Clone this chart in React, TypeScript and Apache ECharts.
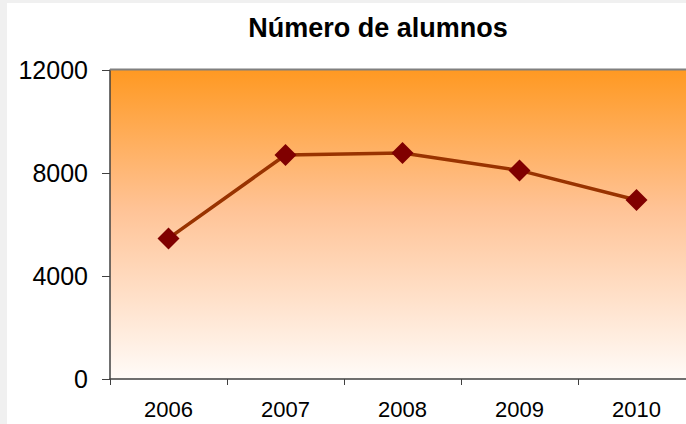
import React, { useEffect, useRef } from "react";
import * as echarts from "echarts";

const categories = ["2006", "2007", "2008", "2009", "2010"];
const alumnos = [5460, 8700, 8780, 8100, 6950];
const yTicks = [0, 4000, 8000, 12000];
const titleText = "Número de alumnos";

export default function App() {
  const ref = useRef<HTMLDivElement>(null);
  useEffect(() => {
    document.body.style.margin = "0";
    document.body.style.overflow = "hidden";
    document.documentElement.style.overflow = "hidden";
    const chart = echarts.init(ref.current!, null, { renderer: "svg" });
    chart.setOption({
      animation: false,
      backgroundColor: "#ffffff",
      title: {
        text: titleText,
        left: 373,
        top: 9,
        textAlign: "center",
        textStyle: { fontFamily: "Liberation Sans", fontWeight: "bold", fontSize: 27, color: "#000" },
      },
      graphic: [
        { type: "rect", shape: { x: 0, y: 0, width: 7, height: 424 }, style: { fill: "#F0F0F0" }, z: 10 },
        { type: "rect", shape: { x: 0, y: 0, width: 700, height: 3 }, style: { fill: "#F0F0F0" }, z: 10 },
        { type: "line", shape: { x1: 110, y1: 69.5, x2: 700, y2: 69.5 }, style: { stroke: "#808080", lineWidth: 2 }, z: 10 },
      ],
      grid: {
        left: 110,
        top: 70,
        right: 5,
        bottom: 45,
        show: true,
        borderWidth: 0,
        backgroundColor: new echarts.graphic.LinearGradient(0, 0, 0, 1, [
          { offset: 0, color: "#FF9922" },
          { offset: 0.45, color: "#FFC396" },
          { offset: 1, color: "#FFFBF8" },
        ]),
      },
      xAxis: {
        type: "category",
        data: categories,
        boundaryGap: true,
        axisLine: { lineStyle: { color: "#404040", width: 1.5 } },
        axisTick: { show: true, length: 6, lineStyle: { color: "#404040" } },
        axisLabel: { fontFamily: "Liberation Sans", fontSize: 22, color: "#000", margin: 19 },
      },
      yAxis: {
        type: "value",
        min: yTicks[0],
        max: yTicks[yTicks.length - 1],
        interval: 4000,
        axisLine: { show: true, lineStyle: { color: "#404040", width: 1.5 } },
        axisTick: { show: true, length: 8, lineStyle: { color: "#404040" } },
        splitLine: { show: false },
        axisLabel: {
          fontFamily: "Liberation Sans",
          fontSize: 25,
          color: "#000",
          margin: 22,
          formatter: (v: number) => String(v),
        },
      },
      series: [
        {
          type: "line",
          data: alumnos,
          symbol: "diamond",
          symbolSize: 22,
          lineStyle: { color: "#993300", width: 3.5 },
          itemStyle: { color: "#800000" },
          z: 5,
        },
      ],
    });
    return () => chart.dispose();
  }, []);
  return <div ref={ref} style={{ width: 700, height: 424 }} />;
}
